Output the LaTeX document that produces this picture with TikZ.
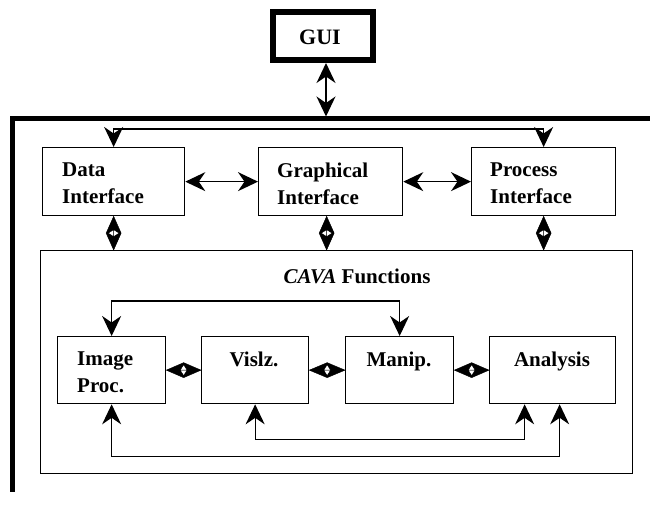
\documentclass[tikz,border=0pt]{standalone}
\usepackage{fontspec}
\setmainfont{Liberation Serif}[BoldFont={Liberation Serif Bold},BoldItalicFont={Liberation Serif Bold Italic}]
\usetikzlibrary{arrows.meta,calc}
\begin{document}
\begin{tikzpicture}[x=1pt,y=-1pt,
  box/.style={draw,line width=1.3pt,rectangle,inner sep=0pt,anchor=north west},
  lbl/.style={inner sep=0pt,font=\bfseries\fontsize{21}{27}\selectfont,align=left},
  tip/.tip={Stealth[length=20pt,width=19pt,inset=6.5pt]},
  arr2/.style={line width=1.3pt,tip-tip},
  % double-headed diamond link, vertical and horizontal
  vdia/.style={fill,draw,line width=0.4pt,even odd rule,to path={
    (\tikztostart) -- ($(\tikztostart)!0.5!(\tikztotarget)+(7.5,0)$) -- (\tikztotarget)
    -- ($(\tikztostart)!0.5!(\tikztotarget)+(-7.5,0)$) -- cycle
    ($(\tikztostart)!0.5!(\tikztotarget)+(0,-3.5)$) -- ($(\tikztostart)!0.5!(\tikztotarget)+(5.5,0)$)
    -- ($(\tikztostart)!0.5!(\tikztotarget)+(0,3.5)$) -- ($(\tikztostart)!0.5!(\tikztotarget)+(-5.5,0)$) -- cycle
    (\tikztostart) -- (\tikztotarget)}},
  hdia/.style={fill,draw,line width=0.4pt,even odd rule,to path={
    (\tikztostart) -- ($(\tikztostart)!0.5!(\tikztotarget)+(0,7.5)$) -- (\tikztotarget)
    -- ($(\tikztostart)!0.5!(\tikztotarget)+(0,-7.5)$) -- cycle
    ($(\tikztostart)!0.5!(\tikztotarget)+(-3.5,0)$) -- ($(\tikztostart)!0.5!(\tikztotarget)+(0,5.5)$)
    -- ($(\tikztostart)!0.5!(\tikztotarget)+(3.5,0)$) -- ($(\tikztostart)!0.5!(\tikztotarget)+(0,-5.5)$) -- cycle
    (\tikztostart) -- (\tikztotarget)}}]
\useasboundingbox (0,0) rectangle (650,510);

% top-level GUI
\node[draw,line width=6pt,minimum width=100pt,minimum height=48pt,inner sep=0pt] (gui) at (323,36) {};
\node[lbl,font=\bfseries\fontsize{22}{27}\selectfont] (guit) at (320,37) {GUI};

% thick enclosing frame
\draw[line width=5pt] (652,119) -- (12,119) -- (12,492);
\coordinate (bus) at (326,116.5);
\draw[arr2] ([xshift=3pt]gui.south) -- (bus);

% interface layer
\node[box,minimum width=142pt,minimum height=68pt] (di) at (42,147) {};
\node[box,minimum width=144pt,minimum height=68pt] (gi) at (258,147) {};
\node[box,minimum width=144pt,minimum height=68pt] (pi) at (471,147) {};
\node[lbl,anchor=north west] (dit) at (62,163) {Data\\Interface};
\node[lbl,anchor=north west] (git) at (277,163) {Graphical\\Interface};
\node[lbl,anchor=north west] (pit) at (490,163) {Process\\Interface};

\draw[arr2] (di.north) -- ++(0,-18) -| (pi.north);
\draw[arr2] (di.east) -- (gi.west);
\draw[arr2] (gi.east) -- (pi.west);

% CAVA functions block
\node[box,minimum width=592pt,minimum height=223pt] (cava) at (40,250) {};
\node[lbl,anchor=base] (cavat) at (357,284) {\textit{CAVA} Functions};

\draw[vdia] (di.south) to (di.south |- cava.north);
\draw[vdia] ([xshift=-4pt]gi.south) to ([xshift=-4pt]gi.south |- cava.north);
\draw[vdia] (pi.south) to (pi.south |- cava.north);

% function modules
\node[box,minimum width=108pt,minimum height=67pt] (ip) at (57,336) {};
\node[box,minimum width=107pt,minimum height=67pt] (vz) at (201,336) {};
\node[box,minimum width=108pt,minimum height=67pt] (mp) at (345,336) {};
\node[box,minimum width=126pt,minimum height=67pt] (an) at (489,336) {};
\node[lbl,anchor=north west] (ipt) at (77,352) {Image\\Proc.};
\node[lbl,anchor=north] (vzt) at (254,352) {Vislz.};
\node[lbl,anchor=north] (mpt) at (399,352) {Manip.};
\node[lbl,anchor=north] (ant) at (552,352) {Analysis};

\draw[hdia] (ip.east) to (vz.west);
\draw[hdia] (vz.east) to (mp.west);
\draw[hdia] (mp.east) to (an.west);

\draw[arr2] (ip.north) -- ++(0,-35) -| (mp.north);
\draw[arr2] (vz.south) -- ++(0,35) -| ([xshift=-28pt]an.south);
\draw[arr2] (ip.south) -- ++(0,52) -| ([xshift=7pt]an.south);
\end{tikzpicture}
\end{document}
